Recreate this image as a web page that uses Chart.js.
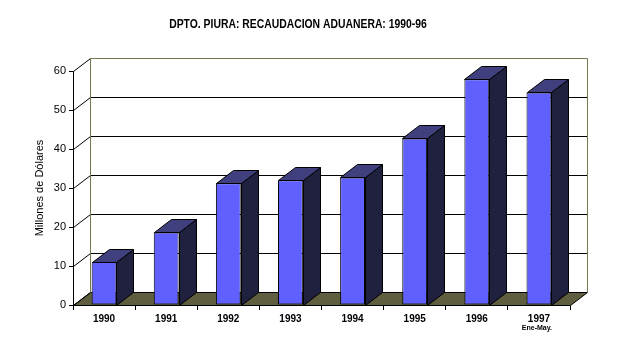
<!DOCTYPE html>
<html>
<head>
<meta charset="utf-8">
<script src="https://cdn.jsdelivr.net/npm/chart.js@4.4.0/dist/chart.umd.min.js"></script>
<style>
  html, body { margin: 0; background: #fff; }
  #wrap { width: 620px; height: 348px; }
</style>
</head>
<body>
<div id="wrap"><canvas id="chart"></canvas></div>
<script>
const TITLE = 'DPTO. PIURA: RECAUDACION ADUANERA: 1990-96';
const YEARS = ['1990', '1991', '1992', '1993', '1994', '1995', '1996', '1997'];
const RECAUDACION = [11.0, 18.6, 31.2, 32.0, 32.7, 42.7, 57.9, 54.5];
const Y_TICKS = [0, 10, 20, 30, 40, 50, 60];
const PERIOD_NOTE = 'Ene-May.';

// depth offset of the 3d box (back plane relative to front plane)
const DX = 17;
const DY = 13;

const FRONT = '#6060ff';
const TOP = '#40407f';
const SIDE = '#20203f';
const FLOOR = '#5f5f3f';
const WALL = '#77774f';
const FONT = '"Liberation Sans", Arial, sans-serif';

const px = v => Math.round(v) + 0.5;

function poly(ctx, pts, fill, stroke) {
  ctx.beginPath();
  ctx.moveTo(pts[0][0], pts[0][1]);
  for (let i = 1; i < pts.length; i++) ctx.lineTo(pts[i][0], pts[i][1]);
  ctx.closePath();
  if (fill) { ctx.fillStyle = fill; ctx.fill(); }
  if (stroke) { ctx.strokeStyle = stroke; ctx.lineWidth = 1; ctx.stroke(); }
}

function line(ctx, x1, y1, x2, y2, color) {
  ctx.beginPath();
  ctx.moveTo(x1, y1);
  ctx.lineTo(x2, y2);
  ctx.strokeStyle = color;
  ctx.lineWidth = 1;
  ctx.stroke();
}

const box3d = {
  id: 'box3d',
  beforeDatasetsDraw(chart) {
    const ctx = chart.ctx;
    const { left, right } = chart.chartArea;
    const ys = chart.scales.y;
    const L = px(left), R = px(right);
    const y0 = px(ys.getPixelForValue(0));
    const yTop = px(ys.getPixelForValue(60));
    ctx.save();

    // floor
    poly(ctx, [[L, y0], [R, y0], [R + DX, y0 - DY], [L + DX, y0 - DY]], FLOOR, '#000');

    // back wall gridlines and the diagonals joining them to the axis
    Y_TICKS.forEach(v => {
      const y = px(ys.getPixelForValue(v));
      if (v > 0 && v < 60) line(ctx, L + DX, y - DY, R + DX, y - DY, '#000');
      line(ctx, L, y, L + DX, y - DY, '#000');
    });

    // wall frame
    line(ctx, L + DX, yTop - DY, R + DX, yTop - DY, WALL);
    line(ctx, L + DX, yTop - DY, L + DX, y0 - DY, WALL);
    line(ctx, R + DX, yTop - DY, R + DX, y0 - DY, WALL);
    ctx.restore();
  },
  afterDatasetsDraw(chart) {
    const ctx = chart.ctx;
    ctx.save();
    chart.getDatasetMeta(0).data.forEach(bar => {
      const l = px(bar.x - bar.width / 2);
      const r = px(bar.x + bar.width / 2);
      const t = px(bar.y);
      const b = px(bar.base);
      poly(ctx, [[r, t], [r, b], [r + DX, b - DY], [r + DX, t - DY]], SIDE, '#000');
      poly(ctx, [[l, t], [r, t], [r + DX, t - DY], [l + DX, t - DY]], TOP, '#000');
    });
    ctx.restore();
  },
  afterDraw(chart) {
    const ctx = chart.ctx;
    const xs = chart.scales.x;
    ctx.save();
    ctx.fillStyle = '#000';
    ctx.textAlign = 'center';
    ctx.textBaseline = 'middle';

    // condensed bold title
    ctx.save();
    ctx.translate(298, 25);
    ctx.scale(0.865, 1);
    ctx.font = 'bold 12px ' + FONT;
    ctx.fillText(TITLE, 0, 0);
    ctx.restore();

    ctx.font = 'bold 7px ' + FONT;
    ctx.fillText(PERIOD_NOTE, xs.getPixelForValue(YEARS.length - 1) - 2, 328);
    ctx.restore();
  }
};

new Chart(document.getElementById('chart'), {
  type: 'bar',
  data: {
    labels: YEARS,
    datasets: [{
      data: RECAUDACION,
      backgroundColor: FRONT,
      borderColor: '#000',
      borderWidth: 1,
      borderSkipped: false,
      barPercentage: 0.4,
      categoryPercentage: 1,
    }],
  },
  options: {
    responsive: true,
    maintainAspectRatio: false,
    animation: false,
    layout: { padding: { left: 26, right: 50, top: 71, bottom: 13 } },
    plugins: {
      legend: { display: false },
      tooltip: { enabled: false },
      title: { display: false },
    },
    scales: {
      x: {
        afterFit: s => { s.height = 30; },
        grid: { display: true, drawOnChartArea: false, offset: true, tickLength: 5, color: '#000' },
        border: { display: true, color: '#000' },
        ticks: {
          color: '#000',
          padding: 3,
          maxRotation: 0,
          font: { family: FONT, size: 10, weight: 'bold' },
        },
      },
      y: {
        min: 0,
        max: 60,
        afterFit: s => { s.width = 47; },
        grid: { display: true, drawOnChartArea: false, tickLength: 4, color: '#000' },
        border: { display: true, color: '#000' },
        ticks: {
          stepSize: 10,
          color: '#000',
          padding: 3,
          font: { family: FONT, size: 11 },
        },
        title: {
          display: true,
          text: 'Millones de Dólares',
          color: '#000',
          padding: { top: 7, bottom: 0 },
          font: { family: FONT, size: 11 },
        },
      },
    },
  },
  plugins: [box3d],
});
</script>
</body>
</html>
